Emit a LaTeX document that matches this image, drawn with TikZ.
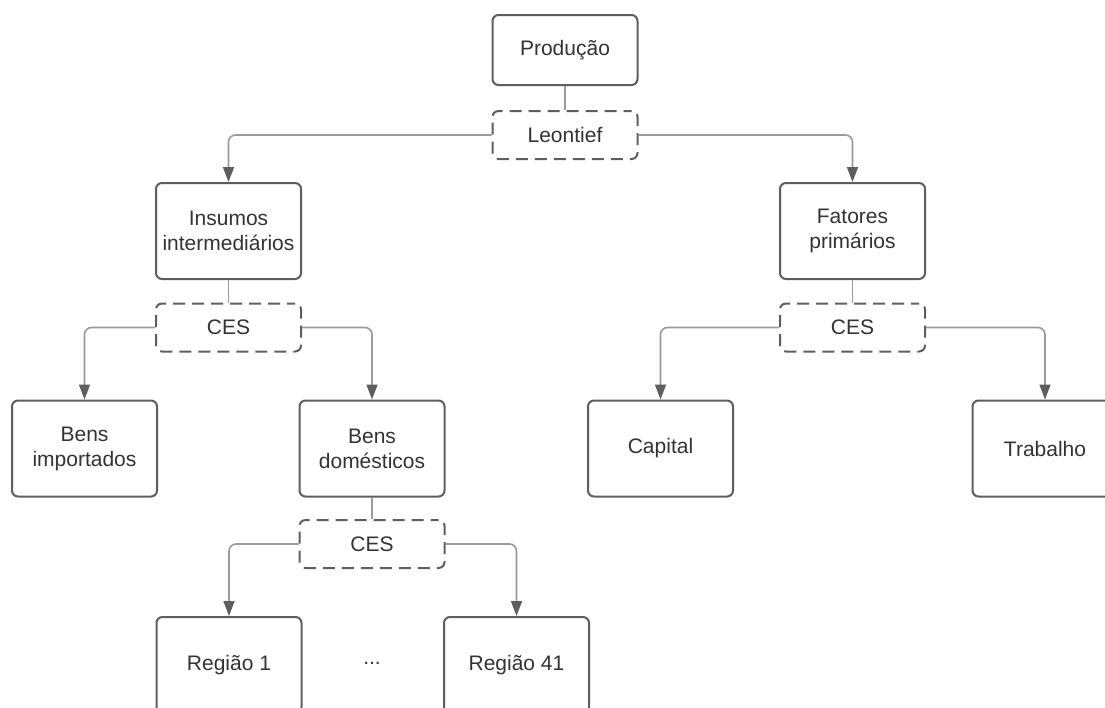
\documentclass[tikz,border=0pt]{standalone}
\usepackage{fontspec}
\setmainfont{Liberation Sans}
\usetikzlibrary{arrows.meta}
\definecolor{boxgray}{HTML}{5E5E5E}
\definecolor{linegray}{HTML}{9A9A9A}
\definecolor{txtgray}{HTML}{333333}
\begin{document}
\begin{tikzpicture}[x=1pt,y=-1pt,
  every node/.style={font=\fontsize{21}{25}\selectfont, text=txtgray, align=center, inner sep=0pt},
  box/.style={draw=boxgray, line width=2pt, rounded corners=6pt, fill=white,
    minimum width=145pt, minimum height=96pt},
  rule/.style={draw=boxgray, line width=2pt, rounded corners=6pt, dash pattern=on 12pt off 7pt,
    dash phase=4pt, fill=white, minimum width=145pt, minimum height=48pt},
  conn/.style={draw=linegray, line width=1.6pt, rounded corners=7pt},
  arr/.style={conn, -{Triangle[length=15pt,width=11pt,color=boxgray]}}]
\useasboundingbox (0,0) rectangle (1105,707);
\clip (0,0) rectangle (1105,707);
\fill[white] (0,0) rectangle (1105,707);

% top level
\node[box, minimum height=70pt] (prod) at (565,50) {Produção};
\node[rule] (leon) at (565,135) {Leontief};

% intermediate inputs branch
\node[box] (ins) at (228.5,231) {Insumos\\intermediários};
\node[rule] (ces1) at (228.5,327.5) {CES};
\node[box] (imp) at (84.5,448.5) {Bens\\importados};
\node[box] (dom) at (372,448.5) {Bens\\domésticos};
\node[rule] (ces3) at (372,544) {CES};
\node[box] (reg1) at (229,665) {Região 1};
\node (dots) at (372,663) {...};
\node[box] (reg41) at (516.5,665) {Região 41};

% primary factors branch
\node[box] (fat) at (852.5,231) {Fatores\\primários};
\node[rule] (ces2) at (852.5,327.5) {CES};
\node[box] (cap) at (660.5,448.5) {Capital};
\node[box] (trab) at (1045,448.5) {Trabalho};

% connectors
\draw[conn] (prod.south) -- (leon.north);
\draw[arr] (leon.west) -| (ins.north);
\draw[arr] (leon.east) -| (fat.north);

\draw[conn] (ins.south) -- (ces1.north);
\draw[arr] (ces1.west) -| (imp.north);
\draw[arr] (ces1.east) -| (dom.north);

\draw[conn] (dom.south) -- (ces3.north);
\draw[arr] (ces3.west) -| (reg1.north);
\draw[arr] (ces3.east) -| (reg41.north);

\draw[conn] (fat.south) -- (ces2.north);
\draw[arr] (ces2.west) -| (cap.north);
\draw[arr] (ces2.east) -| (trab.north);
\end{tikzpicture}
\end{document}
